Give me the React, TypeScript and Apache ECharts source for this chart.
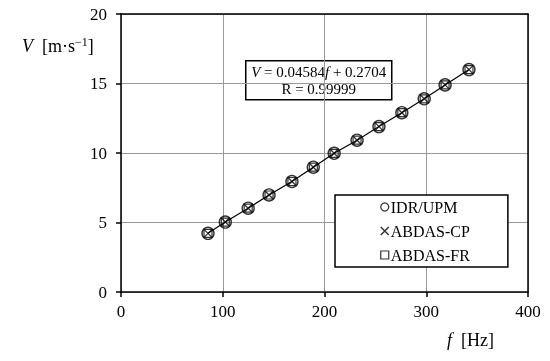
import React, { useEffect, useRef } from "react";
import * as echarts from "echarts";

const freqHz = [85.5, 102.5, 125, 145.5, 168, 189, 209.5, 232, 253.5, 276, 298, 318.5, 342];
const idrUpm = [4.22, 5.03, 6.03, 6.98, 7.95, 8.98, 9.98, 10.92, 11.9, 12.9, 13.9, 14.9, 16.0];
const abdasCp = [4.22, 5.03, 6.03, 6.98, 7.95, 8.98, 9.98, 10.92, 11.9, 12.9, 13.9, 14.9, 16.0];
const abdasFr = [4.22, 5.03, 6.03, 6.98, 7.95, 8.98, 9.98, 10.92, 11.9, 12.9, 13.9, 14.9, 16.0];
const seriesNames = ["IDR/UPM", "ABDAS-CP", "ABDAS-FR"];
const xTicks = [0, 100, 200, 300, 400];
const yTicks = [0, 5, 10, 15, 20];

const FONT = "Liberation Serif";
const CROSS = "path://M0,0L10,10M10,0L0,10";

function pairs(ys: number[]) {
  return freqHz.map((f, i) => [f, ys[i]]);
}

export default function App() {
  const ref = useRef<HTMLDivElement>(null);
  useEffect(() => {
    if (!ref.current) return;
    const chart = echarts.init(ref.current, null, { renderer: "svg" });
    const hollow = (bw: number) => ({ color: "transparent", borderColor: "#000", borderWidth: bw });
    const eqN = { fontFamily: FONT, fontSize: 15, lineHeight: 17, fill: "#000", color: "#000" };
    const eqI = { ...eqN, fontStyle: "italic" };
    const ttlN = { fontFamily: FONT, fontSize: 18, color: "#000" };
    const ttlI = { ...ttlN, fontStyle: "italic" };
    chart.setOption({
      animation: false,
      textStyle: { fontFamily: FONT },
      grid: { left: 121, top: 14, width: 407, height: 278 },
      xAxis: [
        {
          type: "value",
          min: xTicks[0],
          max: xTicks[xTicks.length - 1],
          interval: 100,
          axisLine: { show: true, lineStyle: { color: "#000", width: 1.5 } },
          axisTick: { show: true, inside: false, length: 5, lineStyle: { color: "#000", width: 1.5 } },
          axisLabel: { color: "#000", fontSize: 17, fontFamily: FONT, margin: 11 },
          splitLine: { show: true, lineStyle: { color: "#999", width: 1 } },
        },
        {
          type: "value",
          position: "top",
          min: xTicks[0],
          max: xTicks[xTicks.length - 1],
          axisLine: { show: true, onZero: false, lineStyle: { color: "#000", width: 1.5 } },
          axisTick: { show: false },
          axisLabel: { show: false },
          splitLine: { show: false },
        },
      ],
      yAxis: [
        {
          type: "value",
          min: yTicks[0],
          max: yTicks[yTicks.length - 1],
          interval: 5,
          axisLine: { show: true, lineStyle: { color: "#000", width: 1.5 } },
          axisTick: { show: true, inside: false, length: 5, lineStyle: { color: "#000", width: 1.5 } },
          axisLabel: { color: "#000", fontSize: 17, fontFamily: FONT, margin: 14 },
          splitLine: { show: true, lineStyle: { color: "#999", width: 1 } },
        },
        {
          type: "value",
          position: "right",
          min: yTicks[0],
          max: yTicks[yTicks.length - 1],
          axisLine: { show: true, onZero: false, lineStyle: { color: "#000", width: 1.5 } },
          axisTick: { show: false },
          axisLabel: { show: false },
          splitLine: { show: false },
        },
      ],
      legend: {
        orient: "vertical",
        left: 335,
        top: 195,
        padding: [4, 38, 4, 45],
        itemWidth: 8,
        itemHeight: 8,
        itemGap: 8,
        borderColor: "#000",
        borderWidth: 1.5,
        backgroundColor: "#fff",
        textStyle: { fontFamily: FONT, fontSize: 16, color: "#000", padding: [0, 0, 0, -3] },
        data: [
          { name: seriesNames[0], icon: "circle", itemStyle: hollow(1.3) },
          { name: seriesNames[1], icon: CROSS, itemStyle: hollow(1.5) },
          { name: seriesNames[2], icon: "rect", itemStyle: hollow(1.2) },
        ],
      },
      series: [
        {
          name: "fit",
          type: "line",
          data: pairs(idrUpm),
          showSymbol: false,
          symbol: "none",
          lineStyle: { color: "#000", width: 1.2 },
          z: 1,
          silent: true,
        },
        {
          name: seriesNames[0],
          type: "scatter",
          data: pairs(idrUpm),
          symbol: "circle",
          symbolSize: 12,
          itemStyle: hollow(1.4),
          z: 2,
        },
        {
          name: seriesNames[2],
          type: "scatter",
          data: pairs(abdasFr),
          symbol: "rect",
          symbolSize: 8,
          itemStyle: hollow(1.2),
          z: 3,
        },
        {
          name: seriesNames[1],
          type: "scatter",
          data: pairs(abdasCp),
          symbol: CROSS,
          symbolSize: 7,
          itemStyle: hollow(1.3),
          z: 4,
        },
      ],
      graphic: [
        {
          type: "group",
          left: 245,
          top: 60,
          z: 100,
          children: [
            {
              type: "rect",
              shape: { x: 0, y: 0, width: 146, height: 39 },
              style: { fill: "#fff", stroke: "#000", lineWidth: 1.5 },
            },
            {
              type: "text",
              x: 73,
              y: 3,
              style: {
                text: "{i|V}{n| = 0.04584}{i|f}{n| + 0.2704}\n{n|R = 0.99999}",
                align: "center",
                verticalAlign: "top",
                fontFamily: FONT,
                fontSize: 15,
                lineHeight: 17,
                fill: "#000",
                rich: { n: eqN, i: eqI },
              },
            },
          ],
        },
        {
          type: "text",
          left: 22,
          top: 36,
          style: {
            text: "{i|V}{n|  [m·s}{sup|−1}{n|]}",
            fontFamily: FONT,
            fontSize: 18,
            fill: "#000",
            rich: {
              n: ttlN,
              i: ttlI,
              sup: { fontFamily: FONT, fontSize: 12, color: "#000", verticalAlign: "top", padding: [0, 0, 8, 0] },
            },
          },
        },
        {
          type: "text",
          left: 447,
          top: 331,
          style: {
            text: "{i|f}{n|  [Hz]}",
            fontFamily: FONT,
            fontSize: 18,
            fill: "#000",
            rich: { n: ttlN, i: ttlI },
          },
        },
      ],
    });
    return () => chart.dispose();
  }, []);
  return <div ref={ref} style={{ position: "fixed", left: 0, top: 0, width: 550, height: 361 }} />;
}
